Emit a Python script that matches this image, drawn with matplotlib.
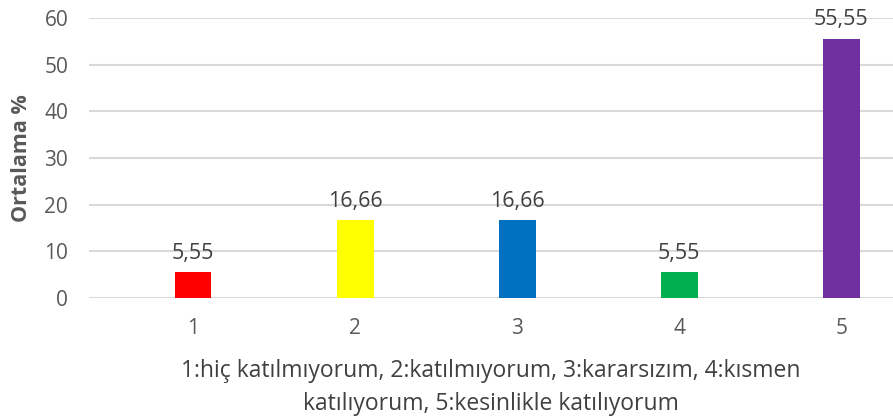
import matplotlib
matplotlib.use("Agg")
import matplotlib.pyplot as plt

# category positions, values and colours
categories = [1, 2, 3, 4, 5]
values = [5.55, 16.66, 16.66, 5.55, 55.55]
labels = ["5,55", "16,66", "16,66", "5,55", "55,55"]
colors = ["#ff0000", "#ffff00", "#0070c0", "#00b050", "#7030a0"]

plt.rcParams['font.family'] = ['Open Sans', 'DejaVu Sans']

fig = plt.figure(figsize=(8.93, 4.19), dpi=100)
ax = fig.add_axes([89/893, 121/419, 804/893, 280/419])

ax.bar(categories, values, width=0.228, color=colors, zorder=3)

# data labels above each bar
for x, v, t in zip(categories, values, labels):
    ax.annotate(t, (x, v), xytext=(0, 6), textcoords="offset points",
                ha="center", va="bottom", fontsize=15.5, color="#404040")

ax.set_xlim(0.358, 5.32)
ax.set_ylim(0, 60)
ax.set_yticks(range(0, 61, 10))
ax.set_xticks(categories)
ax.tick_params(axis="both", length=0, labelsize=15, labelcolor="#595959")
ax.tick_params(axis="x", pad=14.5)
ax.tick_params(axis="y", pad=15)
ax.grid(axis="y", color="#d9d9d9", linewidth=1.5, zorder=0)
for s in ax.spines.values():
    s.set_visible(False)

ax.set_ylabel("Ortalama %", fontsize=15.5, fontweight="bold", color="#595959", labelpad=9)
ax.set_xlabel("1:hiç katılmıyorum, 2:katılmıyorum, 3:kararsızım, 4:kısmen\nkatılıyorum, 5:kesinlikle katılıyorum",
              fontsize=16.5, color="#404040", labelpad=14, linespacing=1.5)

fig.savefig("out.png", dpi=100)
